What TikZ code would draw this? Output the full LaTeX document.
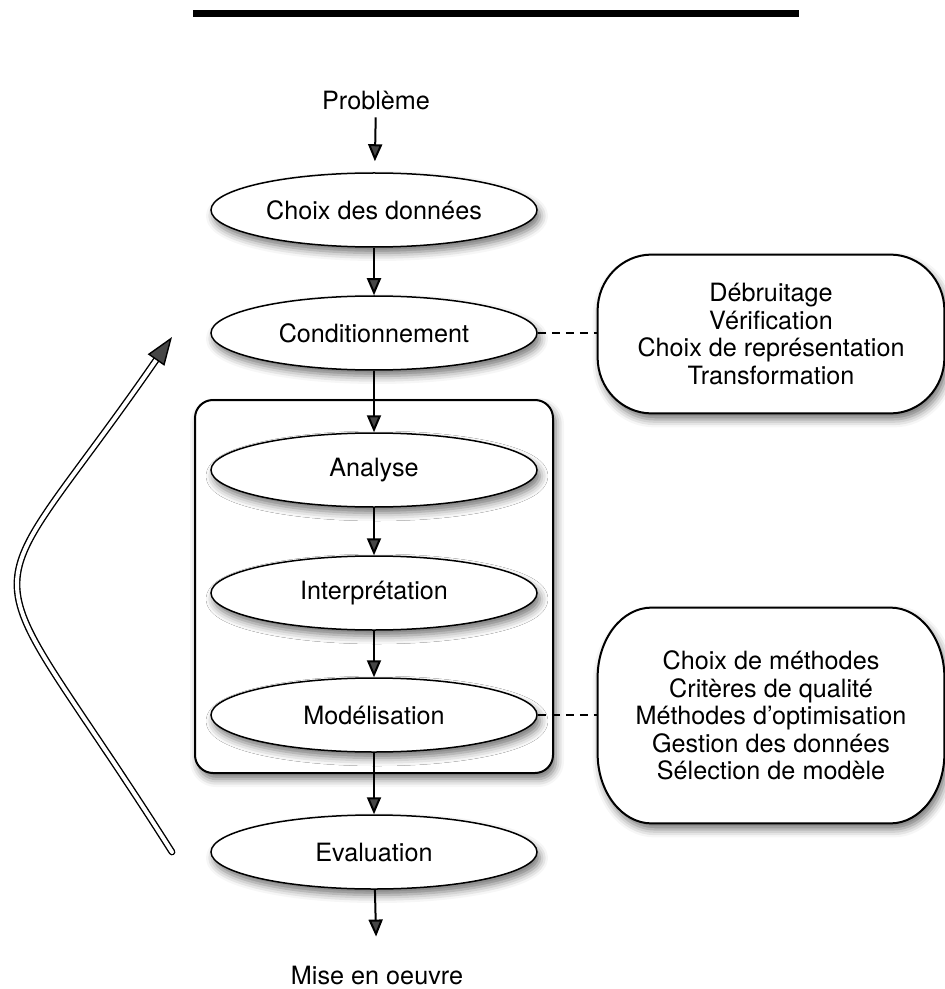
\documentclass[tikz,border=0pt]{standalone}
\usepackage{fontspec}
\setmainfont{TeX Gyre Heros}
\usetikzlibrary{arrows.meta,shapes.geometric,shadows.blur}

% Variables: 1 := frame node, 2 := corner width, 3 := corner height.
\def\notecase#1#2#3{%
    \draw[soft,fill=white,line width=1pt]
        ([xshift=#2]#1.north west) -- ([xshift=-#2]#1.north east)
        .. controls ([xshift=-0.448*#2]#1.north east) and ([yshift=-0.448*#3]#1.north east) .. ([yshift=-#3]#1.north east)
        -- ([yshift=#3]#1.south east)
        .. controls ([yshift=0.448*#3]#1.south east) and ([xshift=-0.448*#2]#1.south east) .. ([xshift=-#2]#1.south east)
        -- ([xshift=#2]#1.south west)
        .. controls ([xshift=0.448*#2]#1.south west) and ([yshift=0.448*#3]#1.south west) .. ([yshift=#3]#1.south west)
        -- ([yshift=-#3]#1.north west)
        .. controls ([yshift=-0.448*#3]#1.north west) and ([xshift=0.448*#2]#1.north west) .. cycle;
}

\begin{document}
\begin{tikzpicture}[x=0.5pt,y=-0.5pt,
    every node/.style={font=\fontsize{12.6}{13.7}\selectfont},
    soft/.style={blur shadow={shadow xshift=1.5pt,shadow yshift=-3pt,shadow blur radius=4pt,shadow opacity=55}},
    stage/.style={ellipse,draw,line width=0.75pt,fill=white,minimum width=163pt,minimum height=37pt,inner sep=0pt,soft},
    stagebox/.style={draw,line width=1pt,rounded corners=9pt,fill=white,minimum width=179pt,minimum height=186.5pt,soft},
    noteframe/.style={inner sep=0pt,minimum width=173pt},
    flow/.style={-{Triangle[length=8.5pt,width=7pt]},line width=1pt},
    dashline/.style={dash pattern=on 4pt off 3pt,line width=0.6pt},
    feedback/.style={double,double distance=2pt,line width=0.7pt,line cap=round,-{Triangle[length=14pt,width=10pt]}}]
\useasboundingbox (0,0) rectangle (945,989);

% title bar
\fill (193,10) rectangle (799,17);

% frame round the inner stages
\node[stagebox] (pipeline) at (374,586.5) {};

% stages
\node (probleme) at (376,101) {Problème};
\node[stage] (choix) at (374,210) {Choix des données};
\node[stage] (cond) at (374,333) {Conditionnement};
\node[stage] (analyse) at (374,470) {Analyse};
\node[stage] (interp) at (374,593) {Interprétation};
\node[stage] (model) at (374,715) {Modélisation};
\node[stage] (eval) at (374,852) {Evaluation};
\node (mise) at (377,975) {Mise en oeuvre};

% side notes
\node[noteframe,minimum height=79pt] (condinfo) at (771,334) {};
\notecase{condinfo}{27pt}{28pt}
\node[align=center] (condtext) at (condinfo)
    {Débruitage\\Vérification\\Choix de représentation\\Transformation};
\node[noteframe,minimum height=107.5pt] (modinfo) at (771,715.5) {};
\notecase{modinfo}{27pt}{35pt}
\node[align=center] (modtext) at (modinfo)
    {Choix de méthodes\\Critères de qualité\\Méthodes d'optimisation\\Gestion des données\\Sélection de modèle};

% main flow
\draw[flow,shorten >=5.5pt] (probleme) -- (choix);
\draw[flow] (choix) -- (cond);
\draw[flow] (cond) -- (analyse);
\draw[flow] (analyse) -- (interp);
\draw[flow] (interp) -- (model);
\draw[flow] (model) -- (eval);
\draw[flow,shorten >=11pt] (eval) -- (mise);

% links to the notes
\draw[dashline] (cond.east) -- (condinfo.west |- cond.east);
\draw[dashline] (model.east) -- (modinfo.west |- model.east);

% feedback loop
\coordinate (loopstart) at (172,852);
\coordinate (looptip) at (172,337);
\draw[feedback] (loopstart) .. controls (-32,530) and (-32,632) .. (looptip);
\end{tikzpicture}
\end{document}
